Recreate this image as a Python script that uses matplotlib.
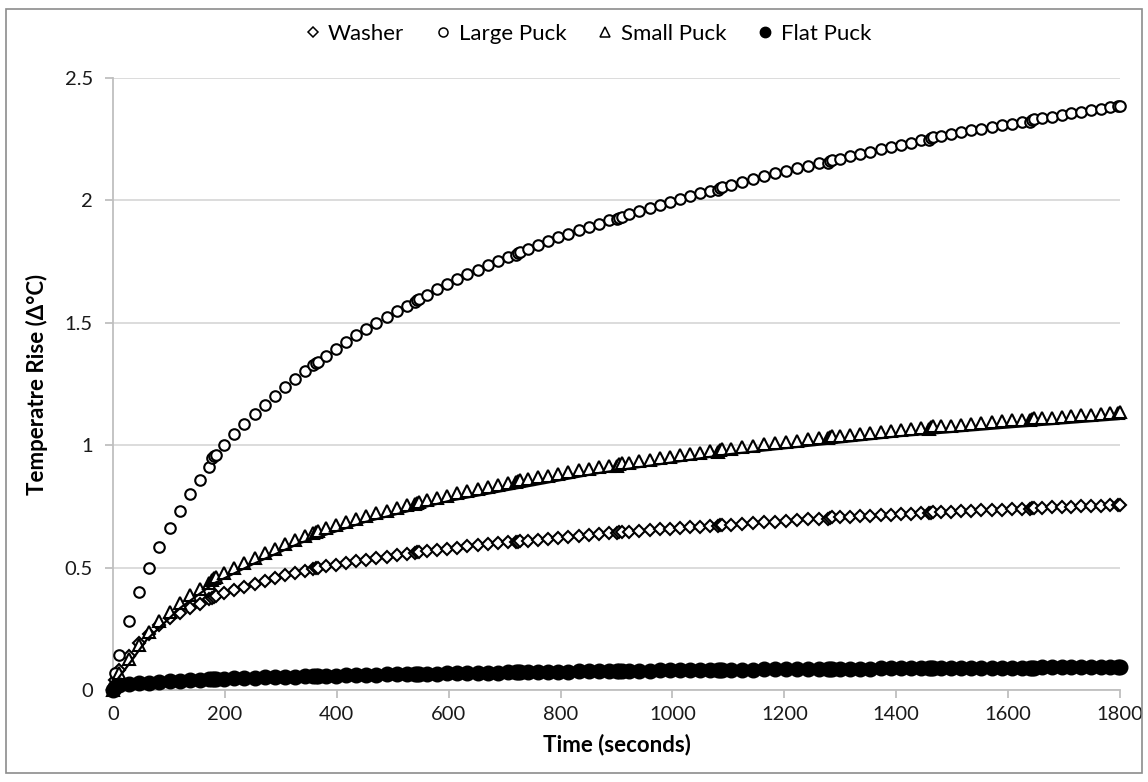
import matplotlib
matplotlib.use("Agg")
import matplotlib.pyplot as plt
from matplotlib.lines import Line2D
from matplotlib.patches import Rectangle

# Sample times (s); readings taken in 180 s runs, with overlapping samples at each join
time_s = [
    0, 4, 11, 29, 47, 65, 83, 101, 119, 137, 155, 172,
    177, 181, 185,
    199, 217, 235, 253, 271, 290, 308, 326, 344,
    358, 362, 366,
    380, 398, 416, 434, 452, 471, 489, 507, 525,
    539, 543, 547,
    561, 579, 597, 615, 633, 652, 670, 688, 706,
    720, 724, 728,
    742, 760, 778, 796, 814, 833, 851, 869, 887,
    901, 905, 909,
    923, 941, 959, 977, 995, 1013, 1031, 1049, 1067,
    1081, 1085, 1089,
    1105, 1124, 1144, 1164, 1184, 1203, 1223, 1243, 1262,
    1278, 1282, 1286,
    1300, 1318, 1336, 1354, 1372, 1390, 1408, 1426, 1444,
    1458, 1462, 1466,
    1480, 1498, 1516, 1534, 1552, 1571, 1589, 1607, 1625,
    1639, 1643, 1647,
    1661, 1678, 1696, 1713, 1731, 1748, 1766, 1783, 1796, 1800,
]

washer = [
    0.0, 0.04, 0.08, 0.14, 0.19, 0.23, 0.265, 0.293, 0.315, 0.335, 0.353, 0.370,
    0.376, 0.380, 0.384,
    0.395, 0.409, 0.422, 0.435, 0.447, 0.458, 0.468, 0.478, 0.488,
    0.494, 0.497, 0.500,
    0.505, 0.512, 0.519, 0.526, 0.533, 0.539, 0.545, 0.551, 0.557,
    0.559, 0.562, 0.565,
    0.567, 0.572, 0.577, 0.582, 0.587, 0.591, 0.595, 0.599, 0.603,
    0.603, 0.606, 0.609,
    0.610, 0.614, 0.618, 0.622, 0.626, 0.630, 0.634, 0.637, 0.641,
    0.641, 0.644, 0.647,
    0.647, 0.650, 0.653, 0.656, 0.659, 0.662, 0.665, 0.667, 0.670,
    0.669, 0.672, 0.675,
    0.675, 0.679, 0.682, 0.685, 0.688, 0.691, 0.694, 0.697, 0.700,
    0.700, 0.703, 0.706,
    0.705, 0.707, 0.709, 0.711, 0.713, 0.715, 0.717, 0.719, 0.722,
    0.721, 0.724, 0.727,
    0.726, 0.728, 0.730, 0.732, 0.734, 0.735, 0.737, 0.739, 0.741,
    0.739, 0.742, 0.745,
    0.744, 0.746, 0.747, 0.749, 0.750, 0.752, 0.753, 0.755, 0.756, 0.756,
]

large_puck = [
    0.0, 0.07, 0.145, 0.28, 0.40, 0.50, 0.585, 0.663, 0.733, 0.80, 0.857, 0.91,
    0.946, 0.955, 0.962,
    1.000, 1.044, 1.086, 1.126, 1.165, 1.203, 1.238, 1.272, 1.304,
    1.328, 1.335, 1.341,
    1.365, 1.394, 1.422, 1.449, 1.475, 1.500, 1.524, 1.547, 1.570,
    1.586, 1.593, 1.598,
    1.615, 1.637, 1.658, 1.678, 1.698, 1.717, 1.735, 1.752, 1.768,
    1.777, 1.784, 1.789,
    1.801, 1.818, 1.834, 1.849, 1.864, 1.878, 1.892, 1.905, 1.918,
    1.924, 1.930, 1.934,
    1.944, 1.957, 1.970, 1.983, 1.995, 2.007, 2.018, 2.029, 2.040,
    2.044, 2.050, 2.054,
    2.063, 2.075, 2.087, 2.099, 2.110, 2.121, 2.131, 2.141, 2.151,
    2.154, 2.160, 2.164,
    2.170, 2.180, 2.190, 2.199, 2.208, 2.218, 2.227, 2.236, 2.245,
    2.248, 2.254, 2.258,
    2.262, 2.270, 2.278, 2.286, 2.293, 2.300, 2.307, 2.314, 2.321,
    2.322, 2.328, 2.332,
    2.335, 2.342, 2.349, 2.356, 2.362, 2.368, 2.374, 2.380, 2.385, 2.387,
]

small_puck = [
    0.0, 0.03, 0.07, 0.125, 0.185, 0.235, 0.28, 0.32, 0.355, 0.388, 0.413, 0.437,
    0.449, 0.456, 0.462,
    0.478, 0.499, 0.519, 0.539, 0.558, 0.577, 0.595, 0.613, 0.630,
    0.641, 0.647, 0.651,
    0.660, 0.673, 0.685, 0.697, 0.709, 0.721, 0.732, 0.743, 0.754,
    0.759, 0.765, 0.769,
    0.775, 0.785, 0.794, 0.803, 0.812, 0.821, 0.830, 0.838, 0.846,
    0.848, 0.854, 0.858,
    0.862, 0.869, 0.876, 0.883, 0.890, 0.897, 0.903, 0.910, 0.916,
    0.916, 0.922, 0.926,
    0.928, 0.934, 0.940, 0.946, 0.952, 0.958, 0.964, 0.969, 0.975,
    0.974, 0.980, 0.984,
    0.986, 0.992, 0.998, 1.003, 1.009, 1.014, 1.019, 1.025, 1.030,
    1.029, 1.035, 1.039,
    1.039, 1.043, 1.047, 1.051, 1.055, 1.058, 1.062, 1.066, 1.070,
    1.067, 1.073, 1.077,
    1.077, 1.080, 1.084, 1.087, 1.091, 1.094, 1.097, 1.101, 1.104,
    1.101, 1.107, 1.111,
    1.110, 1.113, 1.116, 1.119, 1.122, 1.125, 1.128, 1.131, 1.133, 1.134,
]

flat_puck = [
    0.0, 0.012, 0.020, 0.024, 0.027, 0.030, 0.033, 0.036, 0.038, 0.040, 0.042, 0.044,
    0.045, 0.045, 0.045,
    0.046, 0.048, 0.049, 0.050, 0.052, 0.053, 0.054, 0.055, 0.057,
    0.058, 0.058, 0.058,
    0.059, 0.059, 0.060, 0.061, 0.062, 0.063, 0.064, 0.064, 0.065,
    0.066, 0.066, 0.066,
    0.067, 0.067, 0.068, 0.069, 0.069, 0.070, 0.071, 0.071, 0.072,
    0.073, 0.073, 0.073,
    0.073, 0.074, 0.074, 0.075, 0.075, 0.076, 0.076, 0.077, 0.077,
    0.078, 0.078, 0.078,
    0.078, 0.079, 0.079, 0.080, 0.080, 0.080, 0.081, 0.081, 0.082,
    0.082, 0.082, 0.082,
    0.083, 0.083, 0.083, 0.084, 0.084, 0.085, 0.085, 0.085, 0.086,
    0.086, 0.086, 0.086,
    0.086, 0.087, 0.087, 0.087, 0.088, 0.088, 0.088, 0.089, 0.089,
    0.089, 0.089, 0.089,
    0.089, 0.090, 0.090, 0.090, 0.090, 0.091, 0.091, 0.091, 0.091,
    0.091, 0.091, 0.091,
    0.092, 0.092, 0.092, 0.092, 0.093, 0.093, 0.093, 0.093, 0.093, 0.093,
]

# Fitted curve drawn under the Small Puck readings
small_fit_time = [0, 10, 30, 60, 120, 180, 250, 334, 450, 600, 870, 1100, 1407, 1586, 1800]
small_fit = [0.0, 0.05, 0.11, 0.205, 0.335, 0.435, 0.514, 0.600, 0.686, 0.772,
             0.887, 0.963, 1.037, 1.070, 1.107]

x_ticks = [0, 200, 400, 600, 800, 1000, 1200, 1400, 1600, 1800]
y_ticks = [0, 0.5, 1, 1.5, 2, 2.5]
y_tick_labels = ["0", "0.5", "1", "1.5", "2", "2.5"]

FONT = ["Lato", "DejaVu Sans"]
plt.rcParams["font.family"] = FONT

W, H = 1148, 782
fig = plt.figure(figsize=(W / 100, H / 100), dpi=100)
ax = fig.add_axes([113 / W, 1 - 690 / H, (1120 - 113) / W, (690 - 78) / H])

ax.set_xlim(0, 1800)
ax.set_ylim(0, 2.5)

axis_grey = "#bfbfbf"
ax.yaxis.grid(True, color="#d9d9d9", linewidth=1.3)
ax.set_axisbelow(True)
for side in ("top", "right"):
    ax.spines[side].set_visible(False)
for side in ("left", "bottom"):
    ax.spines[side].set_color(axis_grey)
    ax.spines[side].set_linewidth(1.3)

ax.set_xticks(x_ticks)
ax.set_xticklabels([str(v) for v in x_ticks])
ax.set_yticks(y_ticks)
ax.set_yticklabels(y_tick_labels)
ax.tick_params(axis="both", direction="out", length=5.5, width=1.3,
               color=axis_grey, labelsize=14.5, labelcolor="#1a1a1a")
ax.tick_params(axis="y", pad=9)
ax.tick_params(axis="x", pad=6)

mk = dict(linestyle="none", markeredgecolor="black", clip_on=False)
ax.plot(time_s, washer, marker="D", markersize=6.2, markerfacecolor="white",
        markeredgewidth=1.5, zorder=3, **mk)
ax.plot(time_s, large_puck, marker="o", markersize=7.6, markerfacecolor="white",
        markeredgewidth=1.5, zorder=3, **mk)
ax.plot(time_s, small_puck, marker="^", markersize=8.0, markerfacecolor="white",
        markeredgewidth=1.5, zorder=3, **mk)
ax.plot(time_s, flat_puck, marker="o", markersize=10.5, markerfacecolor="black",
        markeredgewidth=1.0, zorder=4, **mk)
ax.plot(small_fit_time, small_fit, color="black", linewidth=1.6, zorder=5)

ax.set_xlabel("Time (seconds)", fontsize=16, fontweight="bold", labelpad=8)
ax.set_ylabel("Temperatre Rise (Δ°C)", fontsize=16, fontweight="bold", labelpad=12)

handles = [
    Line2D([], [], linestyle="none", marker="D", markersize=5.5, markerfacecolor="white",
           markeredgecolor="black", markeredgewidth=1.1, label="Washer"),
    Line2D([], [], linestyle="none", marker="o", markersize=6.5, markerfacecolor="white",
           markeredgecolor="black", markeredgewidth=1.1, label="Large Puck"),
    Line2D([], [], linestyle="none", marker="^", markersize=6.5, markerfacecolor="white",
           markeredgecolor="black", markeredgewidth=1.1, label="Small Puck"),
    Line2D([], [], linestyle="none", marker="o", markersize=7.5, markerfacecolor="black",
           markeredgecolor="black", label="Flat Puck"),
]
fig.legend(handles=handles, loc="center", bbox_to_anchor=(588 / W, 1 - 34 / H),
           ncol=4, frameon=False, fontsize=16, handlelength=0.7, handletextpad=0.35,
           columnspacing=1.4, borderaxespad=0.0)

fig.patches.append(Rectangle((6 / W, 9 / H), (W - 12) / W, (H - 18) / H,
                             transform=fig.transFigure, fill=False,
                             edgecolor="#8c8c8c", linewidth=1.2))

fig.savefig("out.png", dpi=100)
